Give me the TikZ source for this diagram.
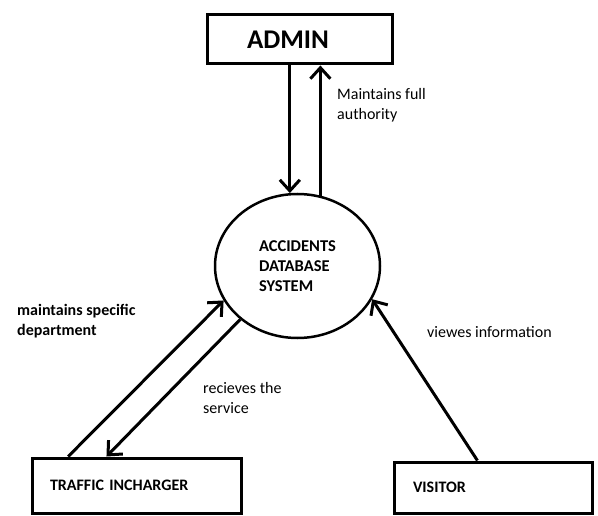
\documentclass[tikz,border=0pt]{standalone}
\usepackage{fontspec}
\setmainfont{Carlito}
\usetikzlibrary{shapes.geometric,arrows.meta}

\begin{document}
\begin{tikzpicture}[x=1pt,y=-1pt,
    box/.style={draw,line width=3pt,align=left,font=\bfseries\fontsize{16}{20}\selectfont},
    flow/.style={line width=3pt,-{Straight Barb[length=11pt,width=20pt]}},
    lbl/.style={inner sep=0pt,align=left,font=\fontsize{16}{20}\selectfont}]
    \useasboundingbox (0,0) rectangle (598,516);
    \node[box,minimum height=49pt,text width=105pt,inner xsep=40pt,font=\bfseries\fontsize{27}{31}\selectfont] (admin) at (299.5,39.5) {ADMIN};
    \node[ellipse,draw,line width=2.5pt,minimum width=165pt,minimum height=144pt,align=left,font=\bfseries\fontsize{16.5}{20}\selectfont] (ads) at (297.5,266) {ACCIDENTS\\DATABASE\\SYSTEM};
    \node[box,minimum height=55pt,text width=173pt,inner xsep=18pt] (traffic) at (136.5,485.5) {TRAFFIC INCHARGER};
    \node[box,minimum height=51pt,text width=160pt,inner xsep=19pt] (visitor) at (493,487.5) {VISITOR};
    \draw[flow] (admin.south -| ads.96) -- (ads.96);
    \draw[flow] (ads.72) -- (ads.72 |- admin.south);
    \draw[flow] (traffic.157) -- (ads.205);
    \draw[flow] (ads.223) -- (traffic.136);
    \draw[flow] (visitor.120) -- (ads.336);
    \node[lbl,anchor=west] (auth) at (337,105) {Maintains full\\authority};
    \node[lbl,anchor=west,font=\bfseries\fontsize{16}{20}\selectfont] (dept) at (17,321) {maintains specific\\department};
    \node[lbl,anchor=west] (serv) at (203,398) {recieves the\\service};
    \node[lbl,anchor=west] (view) at (427,332) {viewes information};
\end{tikzpicture}
\end{document}
